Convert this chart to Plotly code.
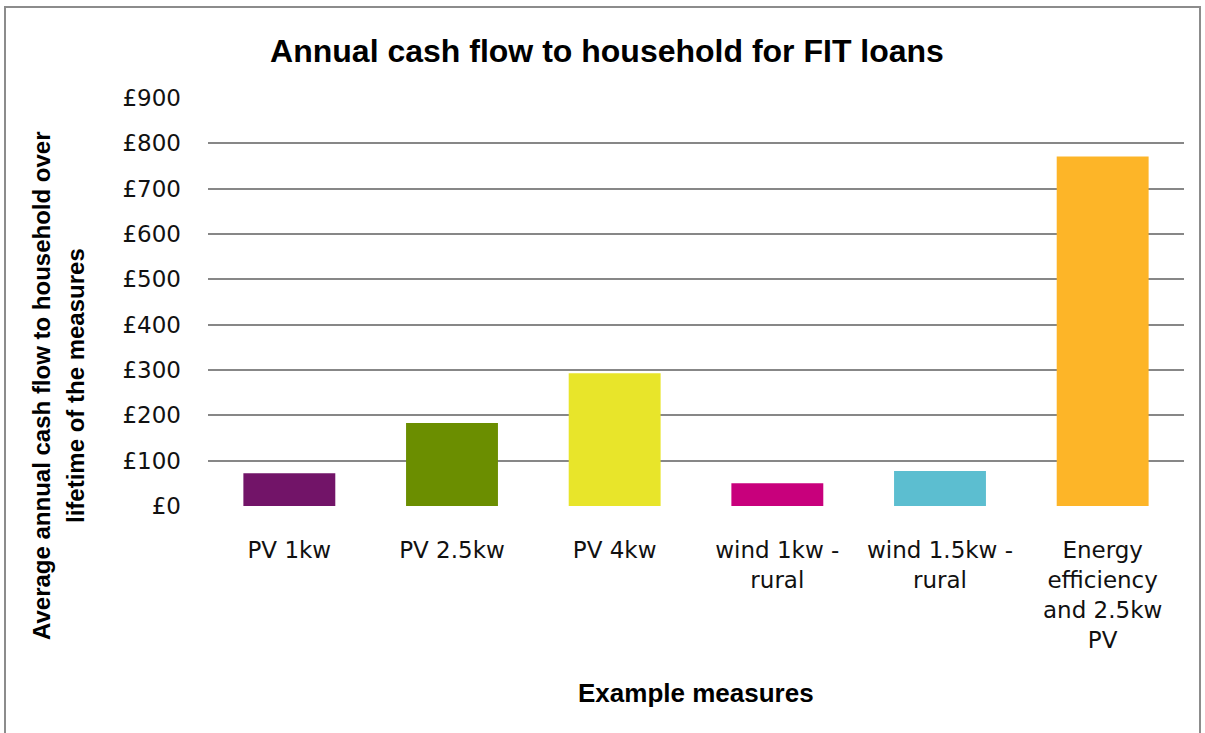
import plotly.graph_objects as go

# Example measures and their average annual cash flow (£)
measures = [
    "PV 1kw",
    "PV 2.5kw",
    "PV 4kw",
    "wind 1kw -<br>rural",
    "wind 1.5kw -<br>rural",
    "Energy<br>efficiency<br>and 2.5kw<br>PV",
]
cash_flow = [72, 183, 293, 50, 77, 771]
bar_colors = ["#721468", "#6B8E00", "#E8E52A", "#C8007C", "#5CBED0", "#FDB528"]

y_ticks = list(range(0, 901, 100))
y_tick_labels = [f"£{v}" for v in y_ticks]

W, H = 1205, 733
L, R, T, B = 208, 21, 98, 227
plot_w = W - L - R
plot_h = H - T - B


def px_x(x):
    return (x - L) / plot_w


def px_y(y):
    return (H - B - y) / plot_h


fig = go.Figure(
    go.Bar(
        x=measures,
        y=cash_flow,
        marker=dict(color=bar_colors, line=dict(width=0)),
        hoverinfo="x+y",
    )
)

tick_font = dict(family="DejaVu Sans", size=23, color="#111111")
bold_font = "Liberation Sans, Arial, sans-serif"

fig.update_layout(
    width=W,
    height=H,
    margin=dict(l=L, r=R, t=T, b=B, pad=0),
    paper_bgcolor="white",
    plot_bgcolor="white",
    bargap=0.435,
    showlegend=False,
    title=dict(
        text="<b>Annual cash flow to household for FIT loans</b>",
        font=dict(family=bold_font, size=32, color="black"),
        x=607 / W,
        xanchor="center",
        y=1 - 51 / H,
        yanchor="middle",
    ),
    xaxis=dict(
        showgrid=False,
        showline=False,
        ticks="",
        tickfont=tick_font,
        ticklabelstandoff=28,
        automargin=False,
    ),
    yaxis=dict(
        range=[0, 900],
        tickvals=y_ticks,
        ticktext=y_tick_labels,
        tickfont=tick_font,
        showgrid=True,
        gridcolor="#878787",
        gridwidth=2,
        zeroline=False,
        showline=False,
        ticks="",
        ticklabelstandoff=26,
        automargin=False,
    ),
)

# Rotated two-line y-axis title
for text, xpix in [
    ("<b>Average annual cash flow to household over</b>", 41),
    ("<b>lifetime of the measures</b>", 75),
]:
    fig.add_annotation(
        text=text,
        xref="paper",
        yref="paper",
        x=px_x(xpix),
        y=px_y(386),
        textangle=-90,
        showarrow=False,
        xanchor="center",
        yanchor="middle",
        font=dict(family=bold_font, size=24, color="black"),
    )

# X-axis title
fig.add_annotation(
    text="<b>Example measures</b>",
    xref="paper",
    yref="paper",
    x=px_x(696),
    y=px_y(693),
    showarrow=False,
    xanchor="center",
    yanchor="middle",
    font=dict(family=bold_font, size=26, color="black"),
)

# Chart-area border
fig.add_shape(
    type="rect",
    xref="paper",
    yref="paper",
    x0=px_x(5),
    x1=px_x(1200),
    y0=px_y(745),
    y1=px_y(7),
    line=dict(color="#8C8C8C", width=2),
    fillcolor="rgba(0,0,0,0)",
    layer="below",
)

fig.write_html("out.html")
